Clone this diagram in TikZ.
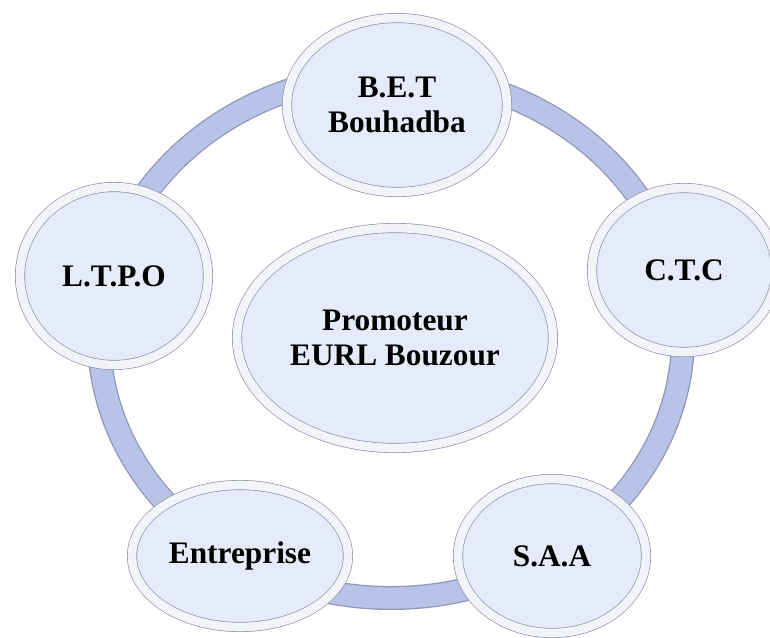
\documentclass[tikz,border=0pt]{standalone}
\usepackage{fontspec}
\setmainfont{Liberation Serif}
\usepackage{tikz}
\usetikzlibrary{shapes.geometric, shadows}
\definecolor{mRing}{HTML}{B9C3E8}
\definecolor{mRingEdge}{HTML}{8F98B8}
\definecolor{mFill}{HTML}{E6EBFA}
\definecolor{mBand}{HTML}{F2F4FA}
\definecolor{mEdge}{HTML}{8A90A6}

\begin{document}
\begin{tikzpicture}[x=0.75pt, y=-0.75pt,
      bub/.style={ellipse, draw=mEdge, line width=0.5pt, double=mBand,
        double distance=6.5pt, fill=mFill, inner sep=0pt, align=center,
        font=\bfseries\fontsize{23.5pt}{26pt}\selectfont,
        drop shadow={shadow xshift=0.6pt, shadow yshift=-1.6pt, opacity=0.25}}]
    \clip (0,0) rectangle (770,637);
    % ring
    \coordinate (hub) at (391,336);
    \draw[mRingEdge, line width=18pt] (hub) ellipse (292 and 262);
    \draw[mRing, line width=16pt] (hub) ellipse (292 and 262);
    % centre
    \node[bub, minimum width=237pt, minimum height=165pt] (promo) at (395,338)
      {Promoteur\\EURL Bouzour};
    % partners
    \node[bub, minimum width=165pt, minimum height=130.5pt] (bet) at (397,105)
      {B.E.T\\Bouhadba};
    \node[bub, minimum width=138pt, minimum height=123pt] (ctc) at (684,270)
      {C.T.C};
    \node[bub, minimum width=141pt, minimum height=115.5pt] (saa) at (552,556)
      {S.A.A};
    \node[bub, minimum width=162pt, minimum height=106.5pt] (ent) at (240,556)
      {Entreprise};
    \node[bub, minimum width=141pt, minimum height=133.5pt] (ltpo) at (114,276)
      {L.T.P.O};
  \end{tikzpicture}
\end{document}
